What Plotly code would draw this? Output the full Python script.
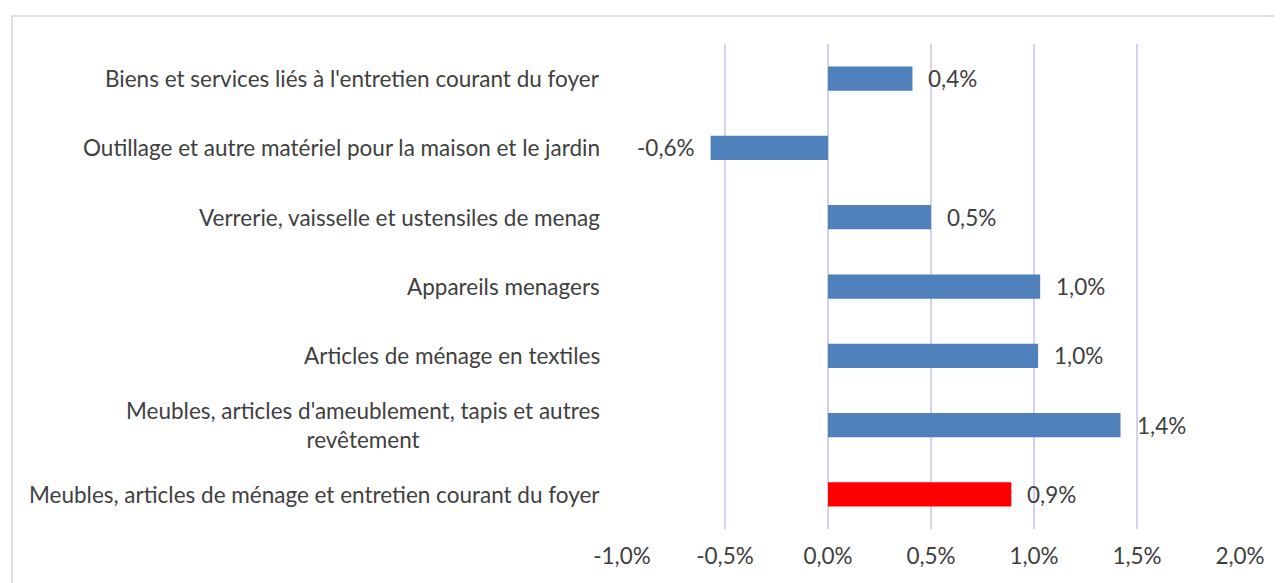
import plotly.graph_objects as go

categories = [
    "Meubles, articles de ménage et entretien courant du foyer",
    "Meubles, articles d'ameublement, tapis et autres<br>revêtement",
    "Articles de ménage en textiles",
    "Appareils menagers",
    "Verrerie, vaisselle et ustensiles de menag",
    "Outillage et autre matériel pour la maison et le jardin",
    "Biens et services liés à l'entretien courant du foyer",
]
values = [0.89, 1.42, 1.02, 1.03, 0.50, -0.57, 0.41]
labels = ["0,9%", "1,4%", "1,0%", "1,0%", "0,5%", "-0,6%", "0,4%"]
colors = ["#FF0000"] + ["#4F81BD"] * 6
x_ticks = [-1.0, -0.5, 0.0, 0.5, 1.0, 1.5, 2.0]
x_ticktext = ["-1,0%", "-0,5%", "0,0%", "0,5%", "1,0%", "1,5%", "2,0%"]

FONT = "Lato"
FS = 22.5
TXT = "#404040"
GRID = "#D4D0F0"

fig = go.Figure()
fig.add_trace(go.Bar(
    x=values, y=categories, orientation="h",
    marker=dict(color=colors, line=dict(width=0)),
    width=0.35,
    showlegend=False,
))

# data labels
for c, v, t in zip(categories, values, labels):
    fig.add_annotation(
        x=v, y=c, text=t, showarrow=False,
        xanchor="left" if v >= 0 else "right",
        xshift=14 if v >= 0 else -14,
        font=dict(family=FONT, size=FS, color=TXT),
    )

# category labels
for c in categories:
    fig.add_annotation(
        x=0, xref="paper", y=c, text=c, showarrow=False,
        xanchor="right", align="center", xshift=-20,
        font=dict(family=FONT, size=FS, color=TXT),
    )

OFF = 8  # page body margin
W, H = 1282 - OFF, 583 - OFF
L, R, T, B = 622 - OFF, 42, 44 - OFF, 54
pw, ph = W - L - R, H - T - B
fig.add_shape(
    type="rect", xref="paper", yref="paper",
    x0=(12 - OFF - L) / pw, x1=(W + 10 - L) / pw,
    y0=-(B + 20) / ph, y1=(H - B - (16 - OFF)) / ph,
    line=dict(color=GRID, width=1.5),
)

fig.update_layout(
    width=W, height=H,
    margin=dict(l=L, r=R, t=T, b=B),
    plot_bgcolor="white", paper_bgcolor="white",
    font=dict(family=FONT, size=FS, color=TXT),
    xaxis=dict(
        range=[-1.0, 2.0], tickvals=x_ticks, ticktext=x_ticktext,
        showgrid=True, gridcolor=GRID, gridwidth=1.5,
        zeroline=False, showline=False, ticks="",
        ticklabelstandoff=11,
        tickfont=dict(family=FONT, size=FS, color=TXT),
    ),
    yaxis=dict(
        categoryorder="array", categoryarray=categories,
        showticklabels=False, showgrid=False, zeroline=False,
        range=[-0.5, 6.5],
    ),
)

fig.write_html("out.html")
